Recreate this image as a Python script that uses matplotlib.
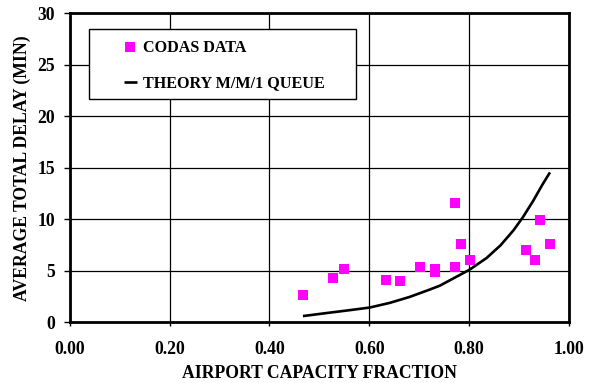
import matplotlib
matplotlib.use("Agg")
import matplotlib.pyplot as plt
from matplotlib.patches import Rectangle

# CODAS data
codas_x = [0.468, 0.528, 0.549, 0.633, 0.662, 0.702, 0.732, 0.732, 0.772, 0.772,
           0.783, 0.802, 0.914, 0.932, 0.942, 0.962]
codas_y = [2.67, 4.29, 5.23, 4.16, 4.03, 5.38, 5.23, 4.87, 5.38, 11.6,
           7.65, 6.06, 7.0, 6.03, 9.93, 7.61]

# Theory M/M/1 queue curve
theory_x = [0.467, 0.507, 0.560, 0.601, 0.641, 0.681, 0.721, 0.741, 0.768, 0.801,
            0.835, 0.863, 0.889, 0.908, 0.929, 0.946, 0.962]
theory_y = [0.62, 0.87, 1.19, 1.45, 1.90, 2.48, 3.19, 3.56, 4.26, 5.12,
            6.25, 7.48, 8.94, 10.22, 11.84, 13.29, 14.55]

xticks = [0.0, 0.2, 0.4, 0.6, 0.8, 1.0]
xtick_labels = ["0.00", "0.20", "0.40", "0.60", "0.80", "1.00"]
yticks = [0, 5, 10, 15, 20, 25, 30]

plt.rcParams['font.family'] = ['Liberation Serif', 'DejaVu Serif']
plt.rcParams['font.weight'] = 'bold'
TICK_FS = 12.7
LABEL_FS = 12.7
LEG_FS = 11.6

fig = plt.figure(figsize=(5.92, 3.83), dpi=100)
ax = fig.add_axes([0.118, 0.158, 0.843, 0.808])

ax.plot(codas_x, codas_y, linestyle='none', marker='s', markersize=7.8,
        color='#FF00FF', markeredgewidth=0, label='CODAS DATA', zorder=3)
ax.plot(theory_x, theory_y, color='black', linewidth=1.9,
        label='THEORY M/M/1 QUEUE', zorder=4, solid_capstyle='butt')

ax.set_xlim(0, 1.0)
ax.set_ylim(0, 30)
ax.tick_params(axis='x', direction='out', length=3, width=1.0, labelsize=TICK_FS, pad=10.2)
ax.tick_params(axis='y', direction='out', length=4, width=1.0, labelsize=TICK_FS, pad=6.5)
ax.set_xticks(xticks)
ax.set_xticklabels(xtick_labels, fontsize=TICK_FS, fontweight='bold')
ax.set_yticks(yticks)
ax.set_yticklabels([str(v) for v in yticks], fontsize=TICK_FS, fontweight='bold')
ax.grid(True, color='black', linewidth=0.9)
ax.set_axisbelow(True)
for s in ax.spines.values():
    s.set_linewidth(2.0)
    s.set_zorder(6)
ax.set_xlabel("AIRPORT CAPACITY FRACTION", fontsize=LABEL_FS, fontweight='bold', labelpad=5.5)
ax.set_ylabel("AVERAGE TOTAL DELAY (MIN)", fontsize=LABEL_FS, fontweight='bold', labelpad=5)

# legend box
box = Rectangle((0.038, 0.722), 0.535, 0.226, transform=ax.transAxes,
                facecolor='white', edgecolor='black', linewidth=1.0, zorder=5)
ax.add_patch(box)
leg = ax.legend(loc='upper left', bbox_to_anchor=(0.108, 0.912),
                borderaxespad=0, borderpad=0, frameon=False,
                handlelength=0.8, handletextpad=0.4, labelspacing=1.2,
                prop={'weight': 'bold', 'size': LEG_FS})
leg.set_zorder(7)

fig.savefig("out.png", dpi=100)
